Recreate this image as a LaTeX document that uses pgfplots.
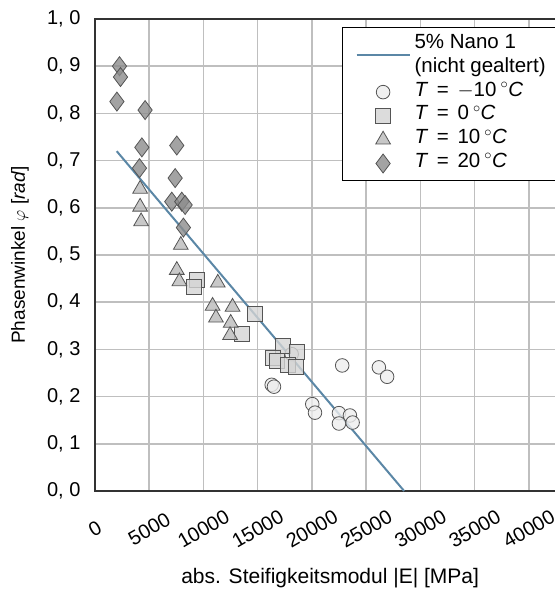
\documentclass[border=0pt]{standalone}
\usepackage{fontspec}
\setmainfont{Liberation Sans}
\usepackage{pgfplots}
\pgfplotsset{compat=1.18}
\definecolor{linec}{HTML}{5B87A6}
\definecolor{edgec}{HTML}{555555}
\definecolor{gridc}{HTML}{BFBFBF}

\pgfplotsset{
  marklegend/.style={legend image code/.code={\draw[mark repeat=2,mark phase=2,##1] plot coordinates {(0pt,0pt) (26.5pt,0pt) (53pt,0pt)};}},
  linelegend/.style={legend image code/.code={\draw[##1] (0pt,-11pt) -- (53pt,-11pt);}},
}
\newcommand{\tlab}[1]{\textit{T}\hspace{0.42em}=\hspace{0.42em}#1\hspace{0.2em}$^{\circ}$\textit{C}}

\pgfplotstableread{
x y
22790 0.266
26170 0.262
26930 0.242
16290 0.225
16500 0.221
20030 0.184
20280 0.166
22490 0.165
23500 0.160
22490 0.143
23750 0.145
18130 0.290
}\tmin

\pgfplotstableread{
x y
9440 0.447
9135 0.432
14750 0.375
13580 0.333
17360 0.308
18590 0.295
16440 0.281
16800 0.276
17820 0.267
18530 0.263
}\tzero

\pgfplotstableread{
x y
4160 0.640
4160 0.602
4250 0.571
7910 0.521
7540 0.468
7780 0.444
11320 0.441
10840 0.392
11150 0.367
12680 0.390
12510 0.356
12450 0.330
}\tten

\pgfplotstableread{
x y
2260 0.900
2350 0.877
2020 0.825
4620 0.807
4320 0.728
7540 0.732
4100 0.684
7390 0.663
7080 0.613
8000 0.613
8310 0.606
8150 0.558
}\ttwenty

\begin{document}
\begin{tikzpicture}[font=\fontsize{20}{24}\selectfont]
\begin{axis}[
  name=ax,
  scale only axis,
  width=461pt, height=472pt,
  xmin=0, xmax=42500, ymin=0, ymax=1,
  scaled x ticks=false,
  xtick={0,5000,10000,15000,20000,25000,30000,35000,40000},
  xticklabels={0,5000,10000,15000,20000,25000,30000,35000,40000},
  ytick={0,0.1,0.2,0.3,0.4,0.5,0.6,0.7,0.8,0.9,1.0},
  yticklabels={{0, 0},{0, 1},{0, 2},{0, 3},{0, 4},{0, 5},{0, 6},{0, 7},{0, 8},{0, 9},{1, 0}},
  grid=major,
  major grid style={line width=1.5pt, color=gridc},
  axis line style={line width=1.5pt, color=black!80},
  major tick length=0pt,
  xticklabel style={yshift=-38pt, rotate=30, anchor=center},
  yticklabel style={anchor=east, xshift=-11pt},
  xlabel={abs. Steifigkeitsmodul |E| [MPa]},
  ylabel={Phasenwinkel $\varphi$ [\textit{rad}]},
  every axis x label/.style={at={(axis description cs:0.51,-0.184)}, anchor=center, font=\fontsize{21}{25}\selectfont},
  every axis y label/.style={at={(axis description cs:-0.163,0.5)}, rotate=90, anchor=center, font=\fontsize{19}{22}\selectfont},
  legend style={at={(axis description cs:0.536,0.983)}, anchor=north west,
    draw=black, line width=1pt, fill=white, inner xsep=13pt, inner ysep=5pt,
    font=\fontsize{20.5}{24}\selectfont,
    nodes={inner ysep=0pt, inner xsep=4pt, text height=15.8pt, text depth=8pt},
    row sep=0pt},
  legend cell align=left,
  marklegend,
  clip=false,
]
\addplot[color=linec, line width=2pt, linelegend] coordinates {(2000,0.72) (28500,0)};
\addlegendentry{5\% Nano 1}
\addlegendimage{empty legend}
\addlegendentry{(nicht gealtert)}
\addplot[only marks, mark=*, mark size=6.8pt, mark options={draw=edgec, fill=black!7, line width=0.8pt, fill opacity=0.8}] table {\tmin};
\addlegendentry{\tlab{$-$10}}
\addplot[only marks, mark=square*, mark size=7.5pt, mark options={draw=edgec, fill=black!17, line width=0.8pt, fill opacity=0.8}] table {\tzero};
\addlegendentry{\tlab{0}}
\addplot[only marks, mark=triangle*, mark size=8.5pt, mark options={draw=edgec, fill=black!27, line width=0.8pt, fill opacity=0.8}] table {\tten};
\addlegendentry{\tlab{10}}
\addplot[only marks, mark=diamond*, mark size=9.5pt, mark options={draw=edgec, fill=black!45, line width=0.8pt, fill opacity=0.8}] table {\ttwenty};
\addlegendentry{\tlab{20}}
\end{axis}
\pgfresetboundingbox
\path[use as bounding box] ([xshift=-95pt,yshift=-99pt]ax.south west) rectangle ([xshift=-1pt,yshift=19pt]ax.north east);
\end{tikzpicture}
\end{document}
